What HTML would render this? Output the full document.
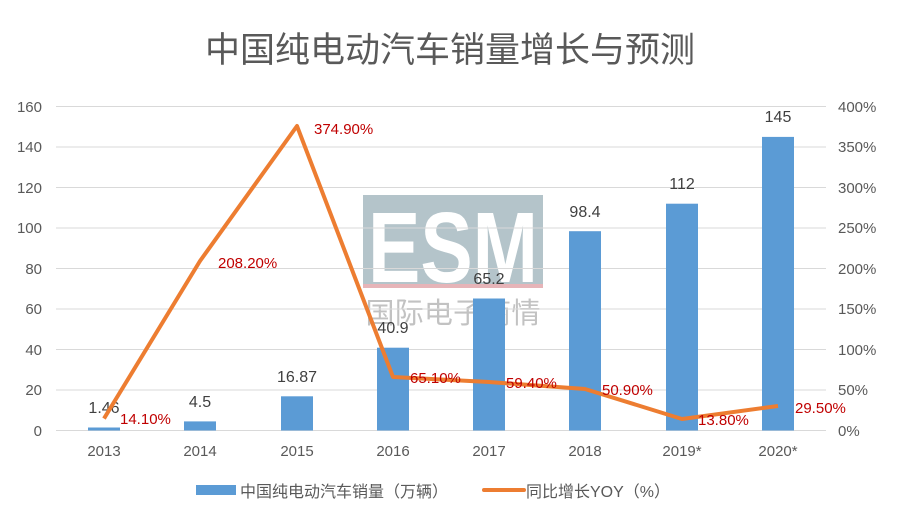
<!DOCTYPE html>
<html><head><meta charset="utf-8"><style>
body{margin:0;background:#fff}
svg text{font-family:"Liberation Sans","Noto Sans CJK SC",sans-serif}
</style></head><body>
<svg width="900" height="520" viewBox="0 0 900 520" xmlns="http://www.w3.org/2000/svg">
<rect width="900" height="520" fill="#fff"/>
<text x="450" y="62" font-size="35" fill="#595959" text-anchor="middle">中国纯电动汽车销量增长与预测</text>
<!-- watermark -->
<rect x="363" y="195" width="180" height="92" fill="#b4c4ca"/>
<rect x="363" y="284" width="180" height="4" fill="#e6b4b8"/>
<text x="453" y="282" font-size="100" font-weight="bold" fill="#fff" text-anchor="middle" textLength="170" lengthAdjust="spacingAndGlyphs">ESM</text>
<text x="453" y="323" font-size="29" fill="#c2c2c2" text-anchor="middle" textLength="175" lengthAdjust="spacing">国际电子商情</text>
<g stroke="#d9d9d9" stroke-width="1">
<line x1="56" x2="826" y1="106.5" y2="106.5"/><line x1="56" x2="826" y1="147" y2="147"/>
<line x1="56" x2="826" y1="187.5" y2="187.5"/><line x1="56" x2="826" y1="228" y2="228"/>
<line x1="56" x2="826" y1="268.5" y2="268.5"/><line x1="56" x2="826" y1="309" y2="309"/>
<line x1="56" x2="826" y1="349.5" y2="349.5"/><line x1="56" x2="826" y1="390" y2="390"/>
<line x1="56" x2="826" y1="430.5" y2="430.5"/>
</g>
<g font-size="15" fill="#595959" text-anchor="end">
<text x="42" y="112">160</text><text x="42" y="152">140</text><text x="42" y="193">120</text>
<text x="42" y="233">100</text><text x="42" y="274">80</text><text x="42" y="314">60</text>
<text x="42" y="355">40</text><text x="42" y="395">20</text><text x="42" y="436">0</text>
</g>
<g font-size="15" fill="#595959" text-anchor="start">
<text x="838" y="112">400%</text><text x="838" y="152">350%</text><text x="838" y="193">300%</text>
<text x="838" y="233">250%</text><text x="838" y="274">200%</text><text x="838" y="314">150%</text>
<text x="838" y="355">100%</text><text x="838" y="395">50%</text><text x="838" y="436">0%</text>
</g>
<g fill="#5b9bd5">
<rect x="88" y="427.5" width="32" height="3"/>
<rect x="184" y="421.4" width="32" height="9.1"/>
<rect x="281" y="396.3" width="32" height="34.2"/>
<rect x="377" y="347.7" width="32" height="82.8"/>
<rect x="473" y="298.5" width="32" height="132"/>
<rect x="569" y="231.2" width="32" height="199.3"/>
<rect x="666" y="203.7" width="32" height="226.8"/>
<rect x="762" y="136.9" width="32" height="293.6"/>
</g>
<g font-size="16" fill="#404040" text-anchor="middle">
<text x="104" y="413">1.46</text><text x="200" y="407">4.5</text><text x="297" y="382">16.87</text>
<text x="393" y="333">40.9</text><text x="489" y="284">65.2</text><text x="585" y="217">98.4</text>
<text x="682" y="189">112</text><text x="778" y="122">145</text>
</g>
<polyline fill="none" stroke="#ed7d31" stroke-width="4" stroke-linejoin="round" points="104,418.6 200,261 297,126 393,377 489,382 585,389 682,419 778,406"/>
<g font-size="15" fill="#c00000">
<text x="120" y="424">14.10%</text><text x="218" y="268">208.20%</text>
<text x="314" y="134">374.90%</text><text x="410" y="383">65.10%</text>
<text x="506" y="388">59.40%</text><text x="602" y="395">50.90%</text>
<text x="698" y="425">13.80%</text><text x="795" y="413">29.50%</text>
</g>
<g font-size="15" fill="#595959" text-anchor="middle">
<text x="104" y="456">2013</text><text x="200" y="456">2014</text><text x="297" y="456">2015</text>
<text x="393" y="456">2016</text><text x="489" y="456">2017</text><text x="585" y="456">2018</text>
<text x="682" y="456">2019*</text><text x="778" y="456">2020*</text>
</g>
<rect x="196" y="485" width="40" height="10" fill="#5b9bd5"/>
<text x="240" y="497" font-size="16" fill="#595959">中国纯电动汽车销量（万辆）</text>
<line x1="484" x2="524" y1="490" y2="490" stroke="#ed7d31" stroke-width="4" stroke-linecap="round"/>
<text x="526" y="497" font-size="16" fill="#595959">同比增长YOY（%）</text>
</svg>
</body></html>
